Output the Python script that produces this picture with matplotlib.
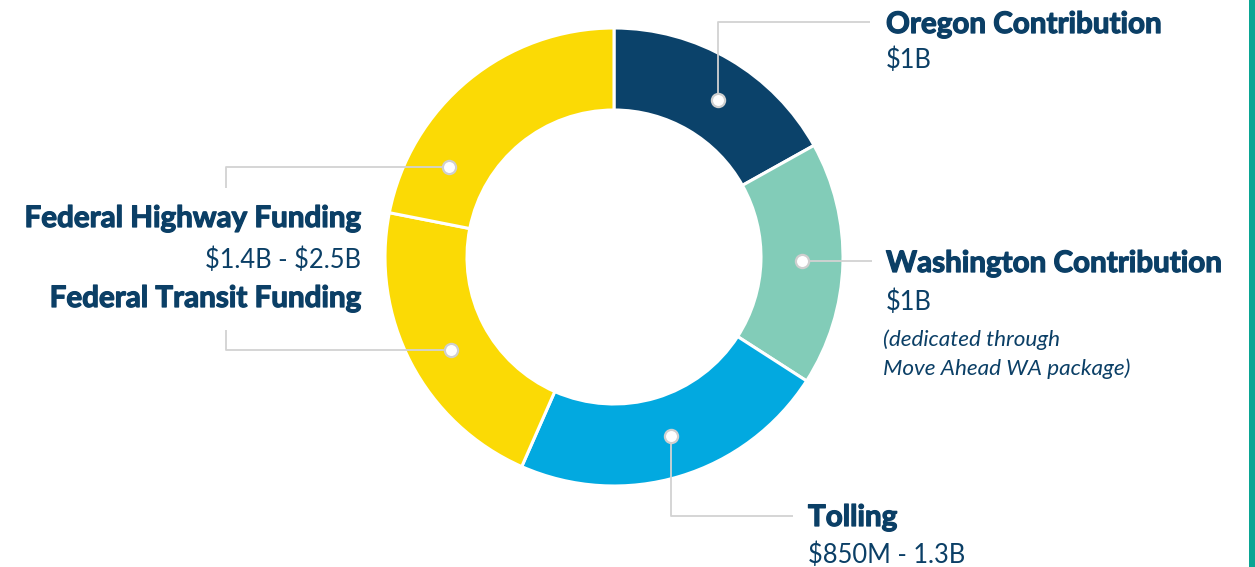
import matplotlib
matplotlib.use("Agg")
import matplotlib.pyplot as plt
import matplotlib.patheffects as pe
import numpy as np

# ---- data ----
segments = ["Oregon Contribution", "Washington Contribution", "Tolling",
            "Federal Transit Funding", "Federal Highway Funding"]
shares = [16.9, 17.2, 22.5, 21.5, 21.9]
amounts = ["$1B", "$1B", "$850M - 1.3B", "$1.4B - $2.5B", "$1.4B - $2.5B"]
wa_note = ["(dedicated through", "Move Ahead WA package)"]
colors = ["#0B426A", "#82CCB8", "#02A9E0", "#FBDA05", "#FBDA05"]

# ---- layout (pixels, y downward) ----
W, H = 1255, 567
CX, CY = 614, 257
R_OUT, R_IN = 229, 147
dot_angles = [56.5, -1.2, -72.5, -150.2, 151.3]
dot_r = 188
NAVY = "#0B3F66"
GREY = "#D2D2D2"
FONT = "Lato"

fig = plt.figure(figsize=(W / 100, H / 100), dpi=100)
ax = fig.add_axes([0, 0, 1, 1])

def Y(y):
    return H - y

ax.pie(shares, colors=colors, startangle=90, counterclock=False,
       radius=R_OUT, center=(CX, Y(CY)),
       wedgeprops=dict(width=R_OUT - R_IN, edgecolor="white", linewidth=2.2))
ax.set_xlim(0, W)
ax.set_ylim(0, H)
ax.set_aspect("equal")
ax.axis("off")

# dots
dots = []
for a in dot_angles:
    t = np.deg2rad(a)
    dots.append((CX + dot_r * np.cos(t), CY - dot_r * np.sin(t)))

def leader(pts):
    xs = [p[0] for p in pts]
    ys = [Y(p[1]) for p in pts]
    ax.plot(xs, ys, color=GREY, lw=1.3, solid_capstyle="butt", zorder=3)

(ox, oy), (wx, wy), (tx, ty), (trx, try_), (hx, hy) = dots
leader([(ox, oy), (ox, 22), (870, 22)])
leader([(wx, wy), (872, wy)])
leader([(tx, ty), (tx, 516), (793, 516)])
leader([(hx, hy), (226, hy), (226, 188)])
leader([(trx, try_), (226, try_), (226, 330)])

for (x, y) in dots:
    ax.plot(x, Y(y), "o", ms=9.5, mfc="white", mec="#CFCFCF", mew=1.6, zorder=5)

heavy = [pe.withStroke(linewidth=0.9, foreground=NAVY)]
BOLD = dict(family=FONT, fontsize=21.3, fontweight="bold", color=NAVY, va="baseline",
            parse_math=False, path_effects=heavy)
REG = dict(family=FONT, fontsize=18.4, color=NAVY, va="baseline", parse_math=False)
ITA = dict(family=FONT, fontsize=16.2, style="italic", color=NAVY, va="baseline",
           parse_math=False)

ax.text(886, Y(33), segments[0], ha="left", **BOLD)
ax.text(886, Y(68), amounts[0], ha="left", **REG)
ax.text(886, Y(272), segments[1], ha="left", **BOLD)
ax.text(886, Y(310), amounts[1], ha="left", **REG)
ax.text(883, Y(346), wa_note[0], ha="left", **ITA)
ax.text(883, Y(375), wa_note[1], ha="left", **ITA)
ax.text(808, Y(526), segments[2], ha="left", **BOLD)
ax.text(808, Y(563), amounts[2], ha="left", **REG)
ax.text(361, Y(227), segments[4], ha="right", **BOLD)
ax.text(361, Y(268), amounts[4], ha="right", **REG)
ax.text(361, Y(307), segments[3], ha="right", **BOLD)

# right teal edge bar
ax.add_patch(plt.Rectangle((1249, 0), 6, H, color="#0AA594", lw=0, zorder=1))

fig.savefig("out.png", dpi=100)
